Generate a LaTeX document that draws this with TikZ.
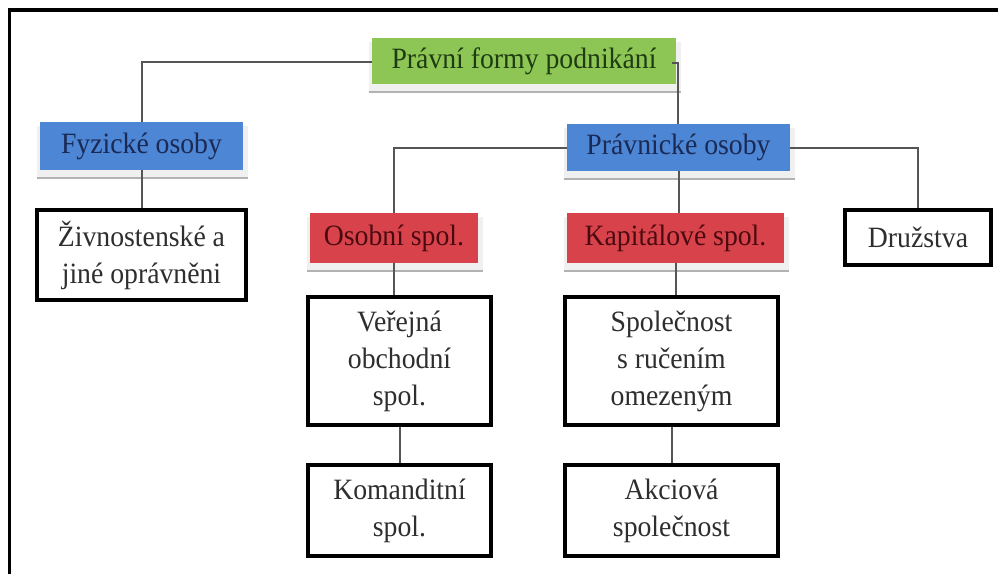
\documentclass[tikz,border=0pt]{standalone}
\usepackage{fontspec}
\setmainfont{Liberation Serif}[FakeStretch=0.94]
\usetikzlibrary{calc,backgrounds}
\definecolor{cgreen}{HTML}{8DC655}
\definecolor{cblue}{HTML}{4C86D4}
\definecolor{cred}{HTML}{D8434B}
\definecolor{tgreen}{HTML}{1F3B12}
\definecolor{tblue}{HTML}{1B2A55}
\definecolor{tred}{HTML}{4B0A10}
\definecolor{tgray}{HTML}{2E2E2E}
\definecolor{lgray}{HTML}{555555}
\begin{document}
\begin{tikzpicture}[x=1pt,y=-1pt,
  every node/.style={font=\fontsize{29.5}{37}\selectfont, align=center, inner sep=0pt},
  colbox/.style={rectangle},
  greenbox/.style={colbox, fill=cgreen, text=tgreen},
  bluebox/.style={colbox, fill=cblue, text=tblue},
  redbox/.style={colbox, fill=cred, text=tred},
  blackbox/.style={rectangle, draw=black, line width=4pt, fill=white, text=tgray},
  conn/.style={draw=lgray, line width=2pt}]
\useasboundingbox (0,0) rectangle (998,574);

% coloured boxes
\node[greenbox, minimum width=304, minimum height=46] (top) at (524,61) {Právní formy podnikání};
\node[bluebox, minimum width=203, minimum height=48] (fyz) at (141.5,146) {Fyzické osoby};
\node[bluebox, minimum width=223, minimum height=47] (prav) at (678.5,147.5) {Právnické osoby};
\node[redbox, minimum width=168, minimum height=50] (osob) at (394,238) {Osobní spol.};
\node[redbox, minimum width=217, minimum height=50] (kap) at (675.5,238) {Kapitálové spol.};

% black boxes
\node[blackbox, minimum width=209, minimum height=90] (ziv) at (141.5,255) {Živnostenské a\\jiné oprávněni};
\node[blackbox, minimum width=146, minimum height=55] (druz) at (918,237.5) {Družstva};
\node[blackbox, minimum width=183, minimum height=128] (ver) at (399.5,361) {Veřejná\\obchodní\\spol.};
\node[blackbox, minimum width=213, minimum height=128] (spol) at (671.5,361) {Společnost\\s ručením\\omezeným};
\node[blackbox, minimum width=183, minimum height=91] (kom) at (399.5,510.5) {Komanditní\\spol.};
\node[blackbox, minimum width=213, minimum height=91] (akc) at (671.5,510.5) {Akciová\\společnost};

% background and shadows of coloured boxes
\begin{scope}[on background layer]
\fill[white] (0,0) rectangle (998,574);
\foreach \n in {top,fyz,prav,osob,kap}{
  \fill[gray!12] ($(\n.north west)+(-3,4)$) rectangle ($(\n.south east)+(5,8)$);
  \draw[gray!60, line width=2.5pt] ($(\n.south west)+(-3,8)$) -- ($(\n.south east)+(5,8)$);
}
\end{scope}
\draw[line width=3.5pt] (9.5,574) -- (9.5,10) -- (998,10);

% connectors
\draw[conn] ($(top.west)+(0,1)$) -| (fyz.north);
\coordinate (tk) at ($(top.east)+(2,2)$);
\draw[conn] ($(top.east)+(-4,2)$) -- (tk) -- (tk |- prav.north);
\draw[conn] (prav.west) -| (osob.north);
\draw[conn] (prav.east) -| (druz.north);
\draw[conn] (prav.south) -- (prav.south |- kap.north);
\draw[conn] (fyz.south) -- (ziv.north);
\draw[conn] (osob.south) -- (osob.south |- ver.north);
\draw[conn] (kap.south) -- (kap.south |- spol.north);
\draw[conn] (ver.south) -- (kom.north);
\draw[conn] (spol.south) -- (akc.north);
\end{tikzpicture}
\end{document}
